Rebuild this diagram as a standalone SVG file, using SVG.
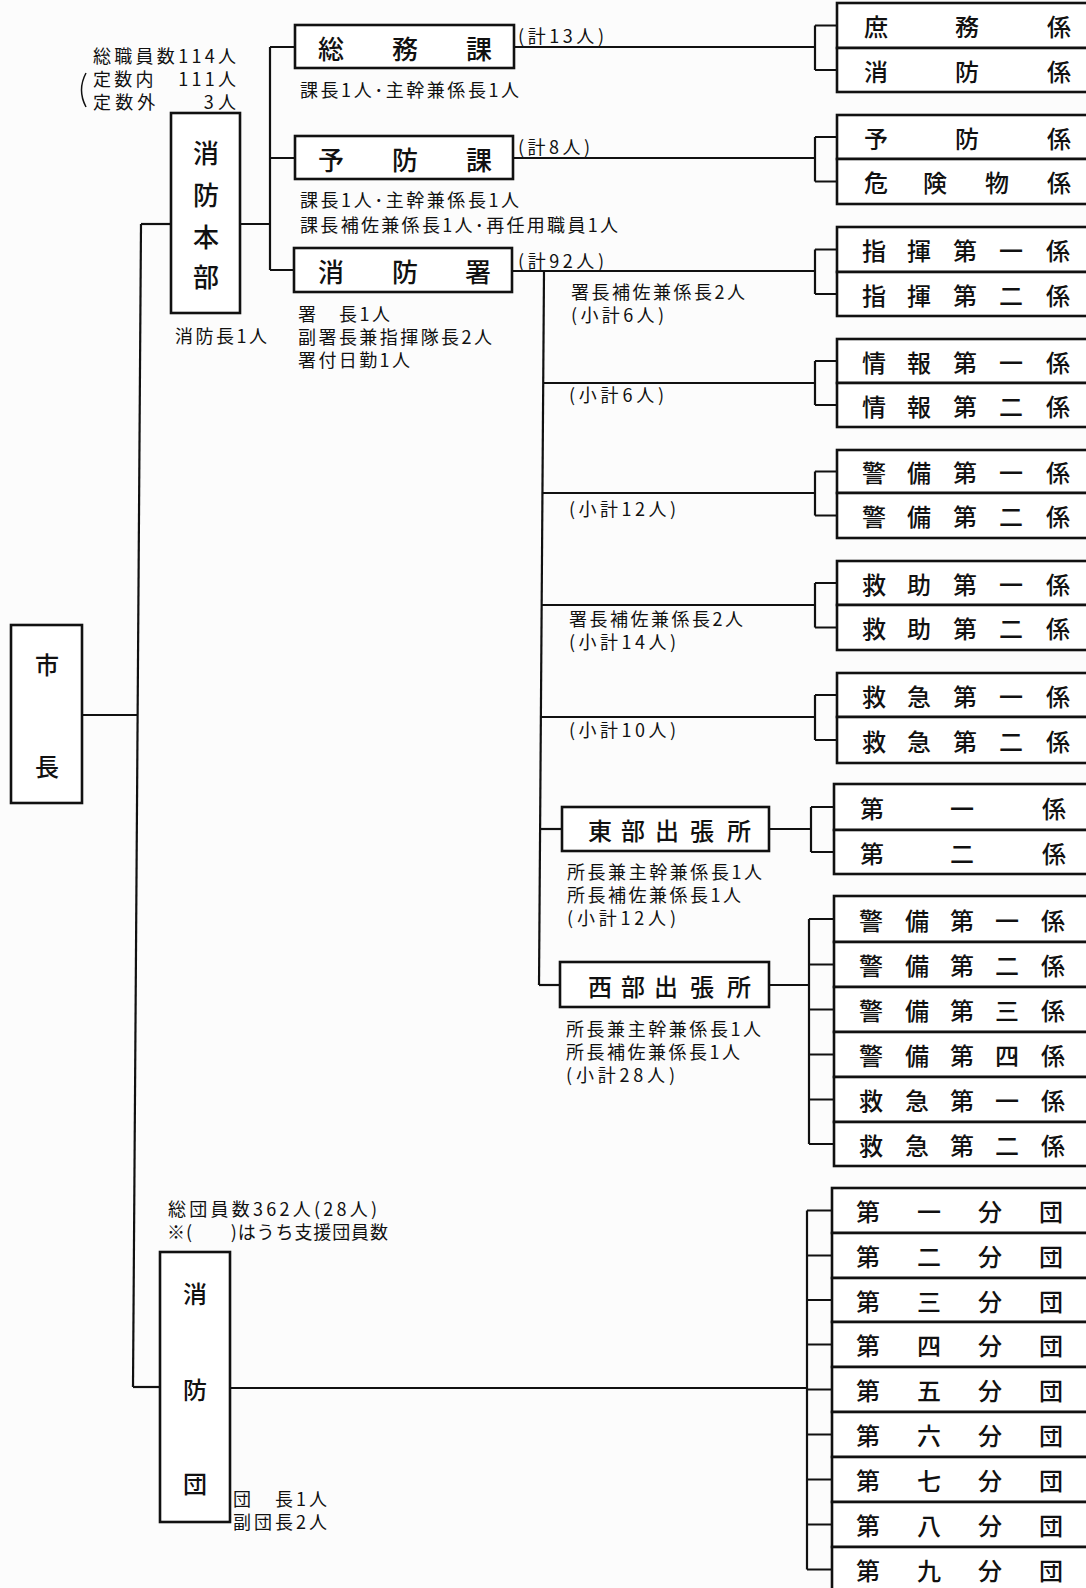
<svg xmlns="http://www.w3.org/2000/svg" width="1086" height="1588" viewBox="0 0 1086 1588">
<style>
.bx{fill:#fff;stroke:#111;stroke-width:2.6}
.ln{fill:none;stroke:#111;stroke-width:2.2}
text{font-family:"Noto Sans CJK JP","Noto Sans CJK SC",sans-serif;fill:#111}
.lb{font-size:24px;text-anchor:middle;dominant-baseline:central;font-weight:500}
.hd{font-size:26px;text-anchor:middle;dominant-baseline:central;font-weight:500}
.an{font-size:18px}
</style>
<rect x="0" y="0" width="1086" height="1588" fill="#fcfcfc"/>

<g id="connectors" class="ln">
<path d="M82 715H138"/>
<path d="M141 224L133 1387"/>
<path d="M141 224H171"/>
<path d="M133 1387H160"/>
<path d="M240 224H270M270 47V270M270 47H295M270 158H295M270 270H294"/>
<path d="M514 47H815M815 25.5V70M815 25.5H837M815 70H837"/>
<path d="M513 158H815M815 137V181.5M815 137H837M815 181.5H837"/>
<path d="M512 271H815M815 249.5V294M815 249.5H837M815 294H837"/>
<path d="M544 271L539 985"/>
<path d="M543 383H815M815 361V405M815 361H837M815 405H837"/>
<path d="M542 493H815M815 471.5V515.5M815 471.5H837M815 515.5H837"/>
<path d="M542 605H815M815 583V627.5M815 583H837M815 627.5H837"/>
<path d="M541 717H815M815 695V740M815 695H837M815 740H837"/>
<path d="M540 829H562"/>
<path d="M539 985H560"/>
<path d="M769 829H811M811 807V852M811 807H834M811 852H834"/>
<path d="M769 985H809M809 919V1144M809 919H834M809 964.5H834M809 1009.5H834M809 1054.5H834M809 1099.5H834M809 1144H834"/>
<path d="M230 1388H807M807 1210.5V1569.5M807 1210.5H832M807 1255.5H832M807 1300H832M807 1344.5H832M807 1389.5H832M807 1434.5H832M807 1479.5H832M807 1524.5H832M807 1569.5H832"/>
</g>

<g id="notes">
<path d="M86 73Q77 90 86 107" fill="none" stroke="#111" stroke-width="1.5"/>
<text class="an" x="93" y="63" textLength="143">総職員数114人</text>
<text class="an" x="93" y="86" textLength="143">定数内　111人</text>
<text class="an" x="93" y="109" textLength="143">定数外　　3人</text>
<text class="an" x="175" y="343" textLength="92">消防長1人</text>
<text class="an" x="300" y="97" textLength="219">課長1人･主幹兼係長1人</text>
<text class="an" x="300" y="207" textLength="219">課長1人･主幹兼係長1人</text>
<text class="an" x="300" y="232" textLength="318">課長補佐兼係長1人･再任用職員1人</text>
<text class="an" x="298" y="321" textLength="92">署　長1人</text>
<text class="an" x="298" y="344" textLength="194">副署長兼指揮隊長2人</text>
<text class="an" x="298" y="367" textLength="112">署付日勤1人</text>
<text class="an" x="518" y="43" textLength="86">(計13人)</text>
<text class="an" x="518" y="154" textLength="72">(計8人)</text>
<text class="an" x="518" y="268" textLength="86">(計92人)</text>
<text class="an" x="571" y="299" textLength="174">署長補佐兼係長2人</text>
<text class="an" x="571" y="322" textLength="93">(小計6人)</text>
<text class="an" x="569" y="402" textLength="95">(小計6人)</text>
<text class="an" x="569" y="516" textLength="107">(小計12人)</text>
<text class="an" x="569" y="626" textLength="174">署長補佐兼係長2人</text>
<text class="an" x="569" y="649" textLength="107">(小計14人)</text>
<text class="an" x="569" y="737" textLength="107">(小計10人)</text>
<text class="an" x="567" y="879" textLength="195">所長兼主幹兼係長1人</text>
<text class="an" x="567" y="902" textLength="174">所長補佐兼係長1人</text>
<text class="an" x="567" y="925" textLength="109">(小計12人)</text>
<text class="an" x="566" y="1036" textLength="195">所長兼主幹兼係長1人</text>
<text class="an" x="566" y="1059" textLength="174">所長補佐兼係長1人</text>
<text class="an" x="566" y="1082" textLength="109">(小計28人)</text>
<text class="an" x="168" y="1216" textLength="209">総団員数362人(28人)</text>
<text class="an" x="167" y="1239" textLength="221">※(　　)はうち支援団員数</text>
<text class="an" x="233" y="1506" textLength="94">団　長1人</text>
<text class="an" x="233" y="1529" textLength="94">副団長2人</text>
</g>

<g id="shicho"><rect class="bx" x="11" y="625" width="71" height="178"/><text class="lb" x="47" y="663">市</text><text class="lb" x="47" y="765">長</text></g>
<g id="honbu"><rect class="bx" x="171" y="113" width="69" height="200"/><text class="hd" x="206" y="151">消</text><text class="hd" x="206" y="193">防</text><text class="hd" x="206" y="235">本</text><text class="hd" x="206" y="275">部</text></g>
<g id="somuka"><rect class="bx" x="295" y="25" width="219" height="43"/><text class="hd" x="331 405 479" y="47">総務課</text></g>
<g id="yoboka"><rect class="bx" x="295" y="136" width="218" height="43"/><text class="hd" x="331 405 479" y="158">予防課</text></g>
<g id="shobosho"><rect class="bx" x="294" y="248" width="218" height="44"/><text class="hd" x="331 405 478" y="270">消防署</text></g>
<g id="tobu"><rect class="bx" x="562" y="807" width="207" height="44"/><text class="lb" x="600 633 667 702 739" y="829">東部出張所</text></g>
<g id="seibu"><rect class="bx" x="560" y="962" width="209" height="45"/><text class="lb" x="600 633 666 702 739" y="985">西部出張所</text></g>
<g id="shobodan"><rect class="bx" x="160" y="1252" width="70" height="270"/><text class="lb" x="195" y="1292">消</text><text class="lb" x="195" y="1388">防</text><text class="lb" x="195" y="1482">団</text></g>

<g id="g-somu">
<rect class="bx" x="837" y="3" width="270" height="45"/><text class="lb" x="876 967 1059" y="25.5">庶務係</text>
<rect class="bx" x="837" y="48" width="270" height="44"/><text class="lb" x="876 967 1059" y="70">消防係</text>
</g>
<g id="g-yobo">
<rect class="bx" x="837" y="115" width="270" height="44"/><text class="lb" x="876 967 1059" y="137">予防係</text>
<rect class="bx" x="837" y="159" width="270" height="45"/><text class="lb" x="876 935 997 1059" y="181.5">危険物係</text>
</g>
<g id="g-shiki">
<rect class="bx" x="837" y="227" width="270" height="45"/><text class="lb" x="874 919 965 1011 1058" y="249.5">指揮第一係</text>
<rect class="bx" x="837" y="272" width="270" height="44"/><text class="lb" x="874 919 965 1011 1058" y="294">指揮第二係</text>
</g>
<g id="g-joho">
<rect class="bx" x="837" y="339" width="270" height="44"/><text class="lb" x="874 919 965 1011 1058" y="361">情報第一係</text>
<rect class="bx" x="837" y="383" width="270" height="44"/><text class="lb" x="874 919 965 1011 1058" y="405">情報第二係</text>
</g>
<g id="g-keibi">
<rect class="bx" x="837" y="450" width="270" height="43"/><text class="lb" x="874 919 965 1011 1058" y="471.5">警備第一係</text>
<rect class="bx" x="837" y="493" width="270" height="45"/><text class="lb" x="874 919 965 1011 1058" y="515.5">警備第二係</text>
</g>
<g id="g-kyujo">
<rect class="bx" x="837" y="561" width="270" height="44"/><text class="lb" x="874 919 965 1011 1058" y="583">救助第一係</text>
<rect class="bx" x="837" y="605" width="270" height="45"/><text class="lb" x="874 919 965 1011 1058" y="627.5">救助第二係</text>
</g>
<g id="g-kyukyu">
<rect class="bx" x="837" y="673" width="270" height="44"/><text class="lb" x="874 919 965 1011 1058" y="695">救急第一係</text>
<rect class="bx" x="837" y="717" width="270" height="46"/><text class="lb" x="874 919 965 1011 1058" y="740">救急第二係</text>
</g>
<g id="g-tobu">
<rect class="bx" x="834" y="784" width="270" height="46"/><text class="lb" x="872 962 1054" y="807">第一係</text>
<rect class="bx" x="834" y="830" width="270" height="44"/><text class="lb" x="872 962 1054" y="852">第二係</text>
</g>
<g id="g-seibu">
<rect class="bx" x="834" y="896" width="270" height="46"/><text class="lb" x="871 917 962 1007 1053" y="919">警備第一係</text>
<rect class="bx" x="834" y="942" width="270" height="45"/><text class="lb" x="871 917 962 1007 1053" y="964.5">警備第二係</text>
<rect class="bx" x="834" y="987" width="270" height="45"/><text class="lb" x="871 917 962 1007 1053" y="1009.5">警備第三係</text>
<rect class="bx" x="834" y="1032" width="270" height="45"/><text class="lb" x="871 917 962 1007 1053" y="1054.5">警備第四係</text>
<rect class="bx" x="834" y="1077" width="270" height="45"/><text class="lb" x="871 917 962 1007 1053" y="1099.5">救急第一係</text>
<rect class="bx" x="834" y="1122" width="270" height="44"/><text class="lb" x="871 917 962 1007 1053" y="1144">救急第二係</text>
</g>
<g id="g-bundan">
<rect class="bx" x="832" y="1188" width="270" height="45"/><text class="lb" x="868 929 990 1051" y="1210.5">第一分団</text>
<rect class="bx" x="832" y="1233" width="270" height="45"/><text class="lb" x="868 929 990 1051" y="1255.5">第二分団</text>
<rect class="bx" x="832" y="1278" width="270" height="44"/><text class="lb" x="868 929 990 1051" y="1300">第三分団</text>
<rect class="bx" x="832" y="1322" width="270" height="45"/><text class="lb" x="868 929 990 1051" y="1344.5">第四分団</text>
<rect class="bx" x="832" y="1367" width="270" height="45"/><text class="lb" x="868 929 990 1051" y="1389.5">第五分団</text>
<rect class="bx" x="832" y="1412" width="270" height="45"/><text class="lb" x="868 929 990 1051" y="1434.5">第六分団</text>
<rect class="bx" x="832" y="1457" width="270" height="45"/><text class="lb" x="868 929 990 1051" y="1479.5">第七分団</text>
<rect class="bx" x="832" y="1502" width="270" height="45"/><text class="lb" x="868 929 990 1051" y="1524.5">第八分団</text>
<rect class="bx" x="832" y="1547" width="270" height="50"/><text class="lb" x="868 929 990 1051" y="1569.5">第九分団</text>
</g>
</svg>
